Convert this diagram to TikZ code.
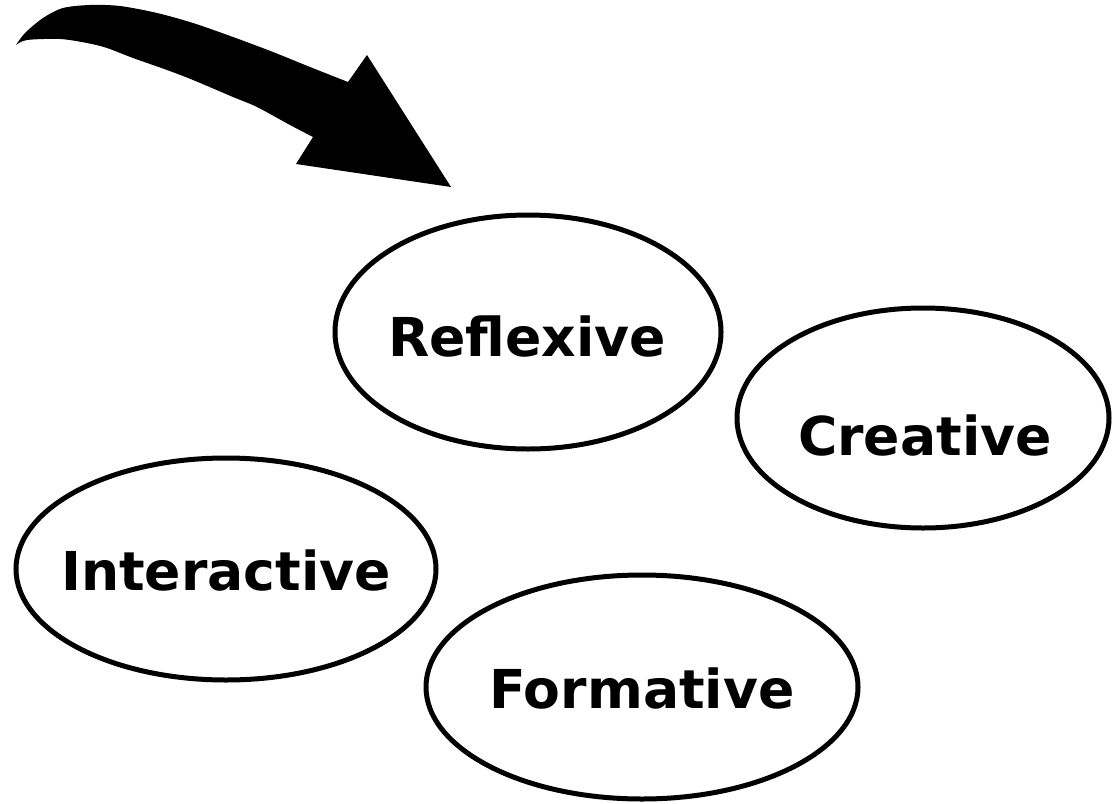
\documentclass[tikz,border=0pt]{standalone}
\usepackage{fontspec}
\setmainfont{DejaVu Sans}
\usetikzlibrary{shapes.geometric}
\tikzset{
  bubble/.style={draw=black, line width=5pt, ellipse, inner sep=0pt, outer sep=0pt},
  lbl/.style={anchor=base, inner sep=0pt, font=\fontsize{53.6}{58}\selectfont\bfseries},
}
\begin{document}
\begin{tikzpicture}[x=1pt,y=-1pt]
\useasboundingbox (0,0) rectangle (1113,803);
% curved block arrow
\fill[black] plot[smooth] coordinates {(16,45) (25,33) (43,18) (63,8) (90,5) (120,6) (157,13) (193,23) (233,37) (273,52) (310,67) (348,82)}
  -- (367,55) -- (451,187) -- (296,164) -- (313,137)
  -- plot[smooth] coordinates {(313,137) (290,125) (257,107) (233,97) (193,80) (167,70) (133,58) (107,48) (87,43) (60,39) (27,40) (16,45)} -- cycle;
% ellipses
\node[bubble, minimum width=386pt, minimum height=234pt] (refl) at (528,332) {};
\node[bubble, minimum width=372pt, minimum height=220pt] (crea) at (923,418) {};
\node[bubble, minimum width=420pt, minimum height=222pt] (inter) at (226,569) {};
\node[bubble, minimum width=432pt, minimum height=224pt] (form) at (642,687) {};
% labels
\node[lbl] (refl-t) at (527,356) {Reflexive};
\node[lbl] (crea-t) at (925,455) {Creative};
\node[lbl] (inter-t) at (226,590) {Interactive};
\node[lbl] (form-t) at (642,708) {Formative};
\end{tikzpicture}
\end{document}
